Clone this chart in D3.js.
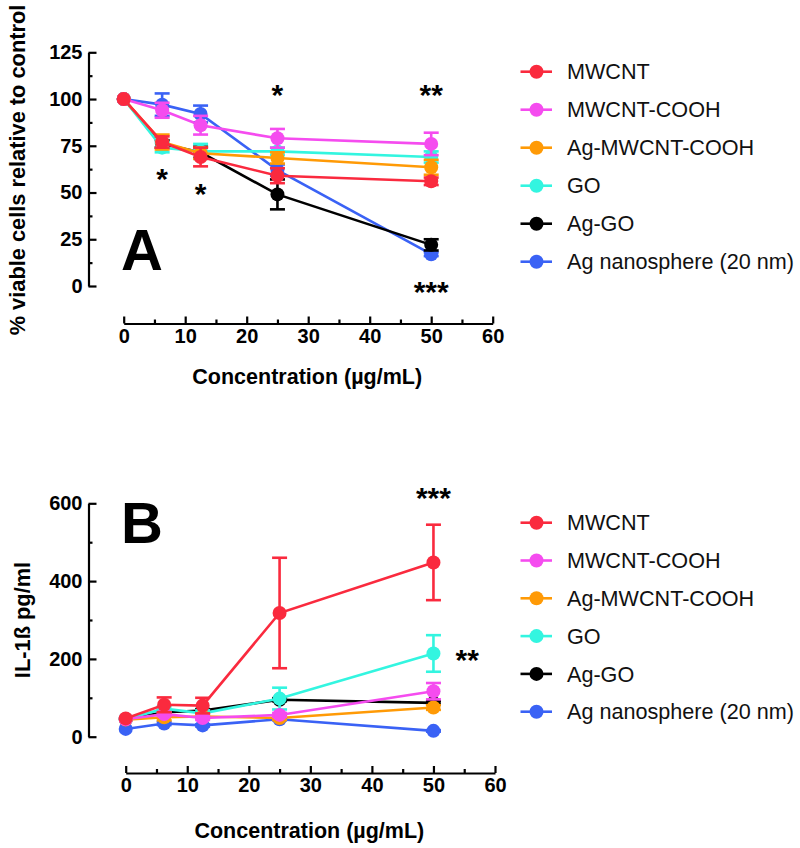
<!DOCTYPE html>
<html>
<head>
<meta charset="utf-8">
<script src="https://cdn.jsdelivr.net/npm/d3@7"></script>
<style>
  html, body { margin: 0; padding: 0; background: #fff; }
  svg { display: block; font-family: "Liberation Sans", Arial, Helvetica, sans-serif; }
</style>
</head>
<body>
<svg id="chart" width="800" height="848"></svg>
<script>
// ---------- data ----------
const concentrations = [0, 6.25, 12.5, 25, 50];
const seriesNames = ["MWCNT", "MWCNT-COOH", "Ag-MWCNT-COOH", "GO", "Ag-GO", "Ag nanosphere (20 nm)"];
const seriesColors = ["#fa2a3e", "#f54cef", "#ff9a06", "#33f5e0", "#000000", "#3a62f5"];

// Panel A: % viable cells
const viabMWCNT      = [100, 77, 69, 59, 56];
const viabMWCNTCOOH  = [100, 94, 86, 79, 76];
const viabAgMWCNT    = [100, 77, 71, 68.5, 63.5];
const viabGO         = [100, 74, 72, 72, 69];
const viabAgGO       = [100, 76, 71.5, 49, 22];
const viabAgNano     = [100, 97, 92, 62, 17];
const viabErrMWCNT     = [0, 3, 5, 4, 2];
const viabErrMWCNTCOOH = [0, 4, 5, 5, 6];
const viabErrAgMWCNT   = [0, 4, 3, 3, 4];
const viabErrGO        = [0, 2.5, 4, 2, 3];
const viabErrAgGO      = [0, 2, 3, 8, 3];
const viabErrAgNano    = [0, 6, 4.5, 3, 1];

// Panel B: IL-1ß pg/ml
const ilMWCNT      = [47, 82, 80, 318, 448];
const ilMWCNTCOOH  = [45, 58, 48, 56, 117];
const ilAgMWCNT    = [44, 50, 52, 48, 75];
const ilGO         = [45, 72, 60, 98, 214];
const ilAgGO       = [45, 63, 67, 95, 87];
const ilAgNano     = [20, 34, 29, 45, 15];
const ilErrMWCNT     = [0, 19, 20, 142, 97];
const ilErrMWCNTCOOH = [0, 5, 5, 5, 21];
const ilErrAgMWCNT   = [0, 8, 5, 5, 6];
const ilErrGO        = [0, 6, 8, 28, 47];
const ilErrAgGO      = [0, 4, 4, 4, 4];
const ilErrAgNano    = [0, 4, 3, 3, 2];

const xTicksMajor = [0, 10, 20, 30, 40, 50, 60];
const xTicksMinor = [5, 15, 25, 35, 45, 55];
const yTicksA = [0, 25, 50, 75, 100, 125];
const yTicksAMinor = [12.5, 37.5, 62.5, 87.5, 112.5];
const yTicksB = [0, 200, 400, 600];
const yTicksBMinor = [100, 300, 500];

// significance annotations [concentration, value-position, label]
const starsA = [[6.25, 61, "*"], [12.5, 53, "*"], [25, 106, "*"], [50, 106, "**"], [50, 0.5, "***"]];
const starsB = [[50, 631, "***"], [55.5, 215, "**"]];

const valuesA = [viabMWCNT, viabMWCNTCOOH, viabAgMWCNT, viabGO, viabAgGO, viabAgNano];
const errorsA = [viabErrMWCNT, viabErrMWCNTCOOH, viabErrAgMWCNT, viabErrGO, viabErrAgGO, viabErrAgNano];
const valuesB = [ilMWCNT, ilMWCNTCOOH, ilAgMWCNT, ilGO, ilAgGO, ilAgNano];
const errorsB = [ilErrMWCNT, ilErrMWCNTCOOH, ilErrAgMWCNT, ilErrGO, ilErrAgGO, ilErrAgNano];

// ---------- drawing ----------
const svg = d3.select("#chart");

function panel(cfg) {
  const g = svg.append("g");
  const x = d3.scaleLinear().domain([0, 60]).range([cfg.x0, cfg.x1]);
  const y = d3.scaleLinear().domain(cfg.yDomain).range([cfg.yBottom, cfg.yTop]);

  // axes
  g.append("g").attr("transform", `translate(${cfg.axisX},0)`)
    .call(d3.axisLeft(y).tickValues(cfg.yTicks).tickSizeInner(-8).tickSizeOuter(0).tickPadding(6).tickFormat(d3.format("d")));
  g.append("g").attr("transform", `translate(${cfg.axisX},0)`)
    .call(d3.axisLeft(y).tickValues(cfg.yMinor).tickSizeInner(-4).tickSizeOuter(0).tickFormat(""))
    .select(".domain").remove();
  g.append("g").attr("transform", `translate(0,${cfg.axisY})`)
    .call(d3.axisBottom(x).tickValues(xTicksMajor).tickSizeInner(-7).tickSizeOuter(0).tickPadding(5));
  g.append("g").attr("transform", `translate(0,${cfg.axisY})`)
    .call(d3.axisBottom(x).tickValues(xTicksMinor).tickSizeInner(-4).tickSizeOuter(0).tickFormat(""))
    .select(".domain").remove();

  g.selectAll(".domain, .tick line").attr("stroke", "#000").attr("stroke-width", 2.2);
  g.selectAll(".tick text").attr("fill", "#000").style("font-size", "20px").style("font-weight", "bold")
    .style("font-family", "'Liberation Sans', Arial, sans-serif");

  // axis titles
  g.append("text").attr("x", (cfg.x0 + cfg.x1) / 2 - 1).attr("y", cfg.xTitleY)
    .attr("text-anchor", "middle").style("font-size", "21.5px").style("font-weight", "bold")
    .text("Concentration (µg/mL)");
  g.append("text").attr("transform", `translate(${cfg.yTitleX},${cfg.yTitleCY}) rotate(-90)`)
    .attr("text-anchor", "middle").style("font-size", "21.8px").style("font-weight", "bold")
    .text(cfg.yTitle);

  // big letter
  g.append("text").attr("x", cfg.letterX).attr("y", cfg.letterY)
    .style("font-size", "58px").style("font-weight", "bold").text(cfg.letter);

  // series (draw in reverse legend order so MWCNT is on top)
  const line = d3.line().x((d, i) => x(concentrations[i])).y(d => y(d));
  for (let s = seriesNames.length - 1; s >= 0; s--) {
    const vals = cfg.values[s], errs = cfg.errors[s], col = seriesColors[s];
    const sg = g.append("g");
    sg.append("path").datum(vals).attr("d", line).attr("fill", "none")
      .attr("stroke", col).attr("stroke-width", 2.6);
    vals.forEach((v, i) => {
      const e = errs[i];
      if (!e) return;
      const cx = x(concentrations[i]);
      sg.append("line").attr("x1", cx).attr("x2", cx).attr("y1", y(v - e)).attr("y2", y(v + e))
        .attr("stroke", col).attr("stroke-width", 2.6);
      [v - e, v + e].forEach(b => {
        sg.append("line").attr("x1", cx - 7.5).attr("x2", cx + 7.5).attr("y1", y(b)).attr("y2", y(b))
          .attr("stroke", col).attr("stroke-width", 2.6);
      });
    });
    sg.selectAll("circle").data(vals).enter().append("circle")
      .attr("cx", (d, i) => x(concentrations[i])).attr("cy", d => y(d)).attr("r", 7)
      .attr("fill", col);
  }

  // stars
  cfg.stars.forEach(([c, v, t]) => {
    g.append("text").attr("x", x(c)).attr("y", y(v) + 17).attr("text-anchor", "middle")
      .style("font-size", "30px").style("font-weight", "bold").text(t);
  });

  // legend
  const lg = g.append("g");
  seriesNames.forEach((name, i) => {
    const cy = cfg.legendY0 + i * cfg.legendStep;
    lg.append("line").attr("x1", 520.5).attr("x2", 552).attr("y1", cy).attr("y2", cy)
      .attr("stroke", seriesColors[i]).attr("stroke-width", 2.6);
    lg.append("circle").attr("cx", 536.5).attr("cy", cy).attr("r", 7).attr("fill", seriesColors[i]);
    lg.append("text").attr("x", 567).attr("y", cy + 7.7).style("font-size", "21.6px")
      .attr("fill", "#111").text(name);
  });
}

panel({
  x0: 123.7, x1: 492.7, axisY: 323.5, axisX: 88.5,
  yDomain: [0, 125], yBottom: 286, yTop: 52.3,
  yTicks: yTicksA, yMinor: yTicksAMinor,
  values: valuesA, errors: errorsA, stars: starsA,
  xTitleY: 384, yTitle: "% viable cells relative to control", yTitleX: 25, yTitleCY: 170,
  letter: "A", letterX: 121, letterY: 270,
  legendY0: 71.7, legendStep: 38
});

panel({
  x0: 125.7, x1: 495, axisY: 773, axisX: 88.5,
  yDomain: [0, 600], yBottom: 736.7, yTop: 503.3,
  yTicks: yTicksB, yMinor: yTicksBMinor,
  values: valuesB, errors: errorsB, stars: starsB,
  xTitleY: 838, yTitle: "IL-1ß pg/ml", yTitleX: 30, yTitleCY: 620,
  letter: "B", letterX: 121, letterY: 542.7,
  legendY0: 522.7, legendStep: 37.8
});
</script>
</body>
</html>
